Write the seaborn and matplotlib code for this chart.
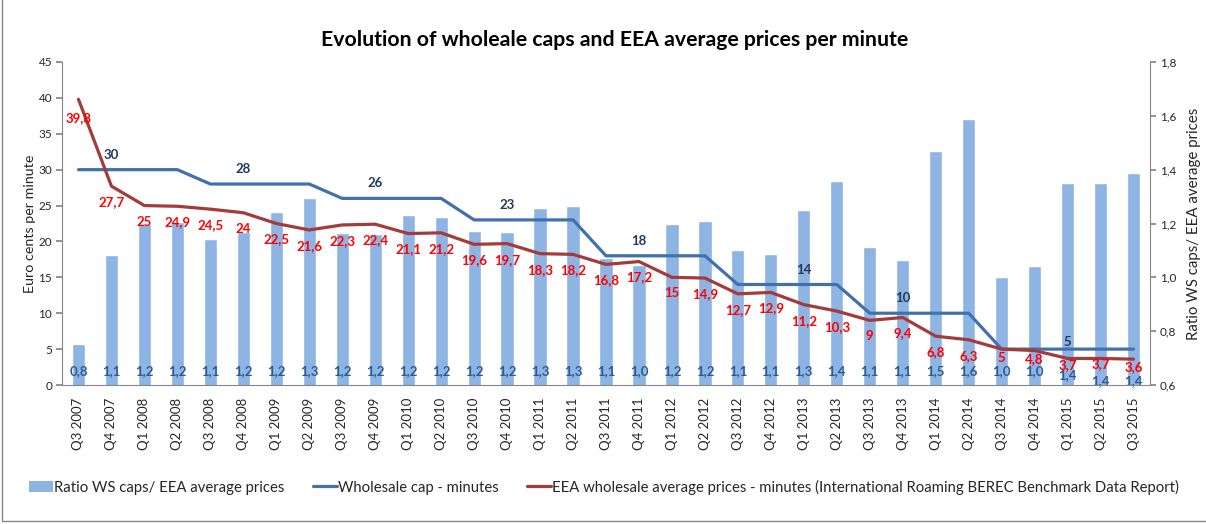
import numpy as np
import pandas as pd
import seaborn as sns
import matplotlib.pyplot as plt
from matplotlib.patches import Rectangle
from decimal import Decimal, ROUND_HALF_UP

# --- data ---
quarters = ["Q3 2007", "Q4 2007", "Q1 2008", "Q2 2008", "Q3 2008", "Q4 2008",
            "Q1 2009", "Q2 2009", "Q3 2009", "Q4 2009", "Q1 2010", "Q2 2010",
            "Q3 2010", "Q4 2010", "Q1 2011", "Q2 2011", "Q3 2011", "Q4 2011",
            "Q1 2012", "Q2 2012", "Q3 2012", "Q4 2012", "Q1 2013", "Q2 2013",
            "Q3 2013", "Q4 2013", "Q1 2014", "Q2 2014", "Q3 2014", "Q4 2014",
            "Q1 2015", "Q2 2015", "Q3 2015"]

wholesale_cap = [30, 30, 30, 30, 28, 28, 28, 28, 26, 26, 26, 26,
                 23, 23, 23, 23, 18, 18, 18, 18, 14, 14, 14, 14,
                 10, 10, 10, 10, 5, 5, 5, 5, 5]

eea_price = [39.8, 27.7, 25, 24.9, 24.5, 24, 22.5, 21.6, 22.3, 22.4, 21.1, 21.2,
             19.6, 19.7, 18.3, 18.2, 16.8, 17.2, 15, 14.9, 12.7, 12.9, 11.2, 10.3,
             9, 9.4, 6.8, 6.3, 5, 4.8, 3.7, 3.7, 3.6]

ratio = [0.754, 1.083, 1.200, 1.205, 1.143, 1.167, 1.244, 1.296, 1.166, 1.161, 1.232, 1.226,
         1.173, 1.168, 1.257, 1.264, 1.071, 1.047, 1.200, 1.208, 1.102, 1.085, 1.250, 1.359,
         1.111, 1.064, 1.471, 1.587, 1.000, 1.042, 1.351, 1.351, 1.389]

# cap value is labelled once per regulatory period, at these quarters
cap_label_idx = [1, 5, 9, 13, 17, 22, 25, 30]

# label offsets (pixels) - Excel squeezes the labels near the bottom
price_label_dy = [-19] + [-16] * 27 + [-9, -9, -7, -6, -8]
cap_label_dy = [15, 15, 15, 15, 15, 15, 15, 7]
ratio_label_y = [0.652] * 30 + [0.637, 0.615, 0.615]

df = pd.DataFrame({
    "Quarter": quarters,
    "pos": np.arange(len(quarters)),
    "Cap": wholesale_cap,
    "Price": eea_price,
    "Ratio": ratio,
})

C_BAR = "#8DB4E2"
C_CAP = "#4171AD"
C_PRICE = "#A33B3B"
C_CAPTXT = "#1F3A60"
C_RATIOTXT = "#2B5B95"
C_GREY = "#868686"


def fmt1(v):
    # Excel style: one decimal, half-up rounding, decimal comma
    return str(Decimal(str(v)).quantize(Decimal("0.1"), rounding=ROUND_HALF_UP)).replace(".", ",")


sns.set_theme(style="white")
plt.rcParams["font.family"] = ["Lato", "DejaVu Sans"]

fig = plt.figure(figsize=(12.06, 5.24), dpi=100)
ax = fig.add_axes([62 / 1206, 1 - 385 / 524, (1150 - 62) / 1206, (385 - 62) / 524])
ax2 = ax.twinx()
ax.set_zorder(ax2.get_zorder() + 1)
ax.patch.set_visible(False)

# bars on right axis (behind)
sns.barplot(data=df, x="pos", y="Ratio", color=C_BAR, width=0.4,
            saturation=1, ax=ax2, native_scale=True)
ax2.set_ylim(0.6, 1.8)
for i, (r, yl) in enumerate(zip(ratio, ratio_label_y)):
    ax2.text(i, yl, fmt1(r), ha="center", va="center",
             fontsize=9.5, fontweight="bold", color=C_RATIOTXT)

# lines on left axis
sns.lineplot(data=df, x="pos", y="Cap", color=C_CAP, linewidth=2.3, ax=ax)
sns.lineplot(data=df, x="pos", y="Price", color=C_PRICE, linewidth=2.3, ax=ax)
ax.set_ylim(0, 45)
ax.set_xlim(-0.5, len(quarters) - 0.5)

for k, i in enumerate(cap_label_idx):
    ax.annotate(str(wholesale_cap[i]), (i, wholesale_cap[i]),
                xytext=(0, cap_label_dy[k]), textcoords="offset pixels",
                ha="center", va="center", fontsize=9.5, fontweight="bold",
                color=C_CAPTXT)
for i, p in enumerate(eea_price):
    ax.annotate(f"{p:g}".replace(".", ","), (i, p),
                xytext=(0, price_label_dy[i]), textcoords="offset pixels",
                ha="center", va="center", fontsize=9.5, fontweight="bold",
                color="#FF0000")

# axes styling
ax.set_yticks(np.arange(0, 46, 5))
ax.set_yticklabels([str(v) for v in range(0, 46, 5)], fontsize=8.5)
ax2.set_yticks(np.arange(0.6, 1.81, 0.2))
ax2.set_yticklabels([f"{v:.1f}".replace(".", ",") for v in np.arange(0.6, 1.81, 0.2)],
                    fontsize=8.5)
ax.set_xticks(np.arange(len(quarters)))
ax.set_xticklabels(quarters, rotation=90, fontsize=9.5)
ax.set_xticks(np.arange(-0.5, len(quarters), 1), minor=True)
ax.tick_params(axis="x", which="major", length=0, pad=9)
ax.tick_params(axis="x", which="minor", length=5, color=C_GREY, direction="out")
ax.tick_params(axis="y", length=4, color=C_GREY, direction="out", left=True, pad=3)
ax2.tick_params(axis="y", length=4, color=C_GREY, direction="out", right=True, pad=3)
ax2.tick_params(axis="x", length=0, labelbottom=False)

ax.set_xlabel("")
ax2.set_xlabel("")
ax.set_ylabel("Euro cents per minute", fontsize=10.3, labelpad=2)
ax2.set_ylabel("Ratio WS caps/ EEA average prices", fontsize=10.8, labelpad=8)

for a in (ax, ax2):
    a.spines["top"].set_visible(False)
    for s in ("left", "right", "bottom"):
        a.spines[s].set_color(C_GREY)
        a.spines[s].set_linewidth(0.8)
ax.spines["right"].set_visible(False)
ax2.spines["left"].set_visible(False)
ax2.spines["bottom"].set_visible(False)

fig.text(615 / 1206, 1 - 40 / 524,
         "Evolution of wholeale caps and EEA average prices per minute",
         ha="center", va="center", fontsize=15.3, fontweight="bold", color="black")

# legend
handles = [
    Rectangle((0, 0), 1, 1, facecolor=C_BAR, edgecolor="none"),
    plt.Line2D([0], [0], color=C_CAP, linewidth=2.3),
    plt.Line2D([0], [0], color=C_PRICE, linewidth=2.3),
]
labels = ["Ratio WS caps/ EEA average prices", "Wholesale cap - minutes",
          "EEA wholesale average prices - minutes (International Roaming BEREC Benchmark Data Report)"]
fig.legend(handles, labels, loc="center", bbox_to_anchor=(604 / 1206, 1 - 487 / 524),
           ncol=3, frameon=False, fontsize=10.7, handlelength=1.6, handletextpad=0.1,
           columnspacing=1.9)

# chart border
fig.patches.append(Rectangle((2 / 1206, 3 / 524), 1.1, 1.1, transform=fig.transFigure,
                             fill=False, edgecolor=C_GREY, linewidth=1))

fig.savefig("out.png", dpi=100)
